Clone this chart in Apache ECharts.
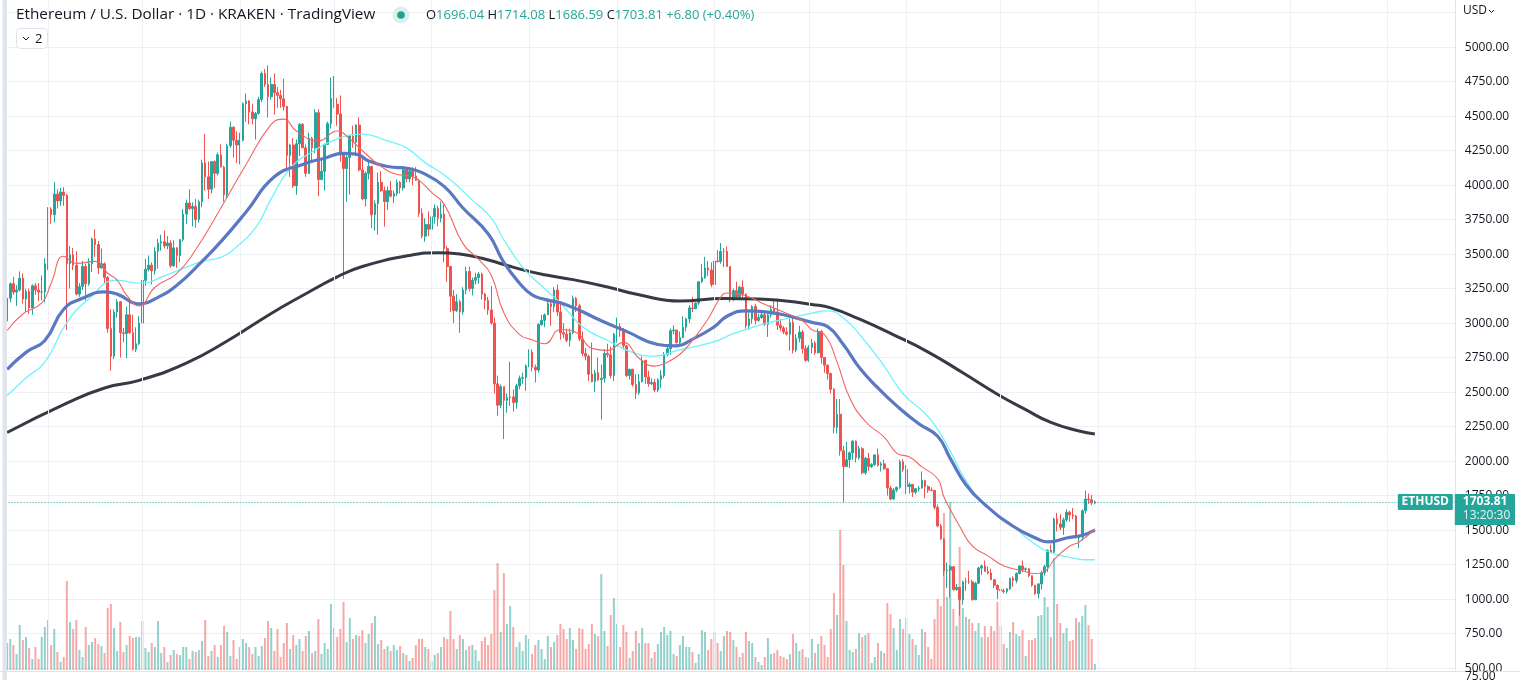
<!DOCTYPE html>
<html><head><meta charset="utf-8">
<script src="https://cdn.jsdelivr.net/npm/echarts/dist/echarts.min.js"></script>
<style>html,body{margin:0;padding:0;background:#fff;}#c{width:1520px;height:680px;}</style>
</head><body><div id="c"></div>
<script>
// ---- data (ETH/USD daily, KRAKEN) ----
const START = '2021-08-19';
const SLOTS = 461; // candles + empty future space
const opens = [
3015,3180,3285,3225,3240,3325,3175,3230,3110,3270,3240,3225,
3225,3430,3825,3785,3935,3885,3950,
3925,3430,3495,3420,3210,3265,3410,3285,3430,3610,3570,3400,
3430,3330,2960,2760,3080,3155,2930,2925,3060,2930,2810,2850,
3000,3310,3390,3420,3380,3520,3580,3590,3560,3580,3415,3545,
3490,3605,3790,3870,3830,3845,3750,3880,4160,4060,3970,4170,
4085,4220,4130,3930,4285,4420,4325,4290,4325,4590,4610,4530,
4480,4520,4620,4810,4730,4640,4730,4670,4650,4625,4570,4215,
4290,3995,4300,4440,4270,4085,4340,4270,4525,4040,4100,4295,
4445,4630,4585,4515,4220,4120,4200,4355,4310,4435,4110,3900,
4085,4135,3785,3865,4020,3960,3880,3960,3920,3940,4020,3980,
4110,4045,4100,4065,4035,3795,3630,3715,3680,3770,3830,3760,
3790,3540,3410,3195,3090,3155,3080,3240,3375,3250,3310,3330,
3355,3210,3165,3095,3000,2560,2405,2540,2440,2460,2465,2425,
2545,2600,2605,2690,2790,2680,2660,2990,3020,3060,3140,3120,
3240,3080,2930,2920,2875,2930,3180,3125,2885,2780,2760,2630,
2575,2640,2590,2600,2780,2770,2620,2920,2975,2945,2835,2620,
2665,2555,2495,2575,2730,2610,2560,2570,2515,2590,2620,2775,
2815,2945,2950,2860,2895,2970,3030,3110,3105,3145,3300,3330,
3400,3385,3280,3450,3445,3520,3520,3410,3170,3235,3190,3260,
3210,2980,3030,3120,3020,3040,3060,2990,3060,3100,3080,2985,
2965,2935,2920,3005,2805,2890,2935,2815,2730,2825,2855,2785,
2940,2750,2695,2635,2520,2245,2340,2075,1960,2010,2060,2145,
2025,2090,1915,2020,1960,1975,2045,1970,1980,1945,1805,1725,
1790,1810,1995,1940,1815,1830,1775,1800,1805,1860,1815,1790,
1788,1665,1530,1435,1205,1210,1235,1070,1085,995,1125,1127,
1125,995,1115,1225,1240,1200,1190,1140,1100,1070,1060,1055,
1075,1150,1135,1185,1240,1215,1220,1170,1100,1040,1110,1190,
1235,1355,1340,1580,1545,1520,1575,1630,1610,1602,1445,1450,
1640,1725,1720,1696.04];
const closes = [
3180,3285,3225,3240,3325,3175,3230,3110,3270,3240,3225,3225,
3430,3825,3785,3935,3885,3950,3925,
3430,3495,3420,3210,3265,3410,3285,3430,3610,3570,3400,3430,
3330,2960,2760,3080,3155,2930,2925,3060,2930,2810,2850,3000,
3310,3390,3420,3380,3520,3580,3590,3560,3580,3415,3545,3490,
3605,3790,3870,3830,3845,3750,3880,4160,4060,3970,4170,4085,
4220,4130,3930,4285,4420,4325,4290,4325,4590,4610,4530,4480,
4520,4620,4810,4730,4640,4730,4670,4650,4625,4570,4215,4290,
3995,4300,4440,4270,4085,4340,4270,4525,4040,4100,4295,4445,
4630,4585,4515,4220,4120,4200,4355,4310,4435,4110,3900,4085,
4135,3785,3865,4020,3960,3880,3960,3920,3940,4020,3980,4110,
4045,4100,4065,4035,3795,3630,3715,3680,3770,3830,3760,3790,
3540,3410,3195,3090,3155,3080,3240,3375,3250,3310,3330,3355,
3210,3165,3095,3000,2560,2405,2540,2440,2460,2465,2425,2545,
2600,2605,2690,2790,2680,2660,2990,3020,3060,3140,3120,3240,
3080,2930,2920,2875,2930,3180,3125,2885,2780,2760,2630,2575,
2640,2590,2600,2780,2770,2620,2920,2975,2945,2835,2620,2665,
2555,2495,2575,2730,2610,2560,2570,2515,2590,2620,2775,2815,
2945,2950,2860,2895,2970,3030,3110,3105,3145,3300,3330,3400,
3385,3280,3450,3445,3520,3520,3410,3170,3235,3190,3260,3210,
2980,3030,3120,3020,3040,3060,2990,3060,3100,3080,2985,2965,
2935,2920,3005,2805,2890,2935,2815,2730,2825,2855,2785,2940,
2750,2695,2635,2520,2245,2340,2075,1960,2010,2060,2145,2025,
2090,1915,2020,1960,1975,2045,1970,1980,1945,1805,1725,1790,
1810,1995,1940,1815,1830,1775,1800,1805,1860,1815,1790,1788,
1665,1530,1435,1205,1210,1235,1070,1085,995,1125,1127,1125,
995,1115,1225,1240,1200,1190,1140,1100,1070,1060,1055,1075,
1150,1135,1185,1240,1215,1220,1170,1100,1040,1110,1190,1235,
1355,1340,1580,1545,1520,1575,1630,1610,1602,1445,1450,1640,
1725,1720,1697.01,1703.81];
const highs = [
3185,3295,3335,3275,3375,3360,3250,3250,3280,3290,3290,3345,
3470,3840,3840,4020,3970,3980,3985,
3935,3560,3545,3520,3290,3450,3430,3470,3620,3680,3595,3540,
3440,3340,3100,3100,3175,3160,2965,3120,3160,3060,2970,3050,
3360,3465,3490,3440,3550,3610,3640,3670,3630,3600,3600,3550,
3610,3825,3895,3970,3875,3900,3895,4185,4370,4170,4175,4180,
4235,4295,4140,4300,4460,4425,4390,4380,4600,4665,4615,4590,
4530,4640,4825,4840,4868,4780,4810,4710,4690,4770,4575,4300,
4340,4330,4450,4450,4295,4380,4350,4550,4550,4180,4300,4460,
4780,4790,4630,4650,4240,4230,4360,4430,4440,4490,4220,4100,
4180,4140,3890,4090,4100,3990,3990,4030,3960,4040,4030,4140,
4130,4130,4130,4130,4045,3830,3760,3810,3775,3860,3850,3880,
3860,3560,3415,3240,3210,3170,3260,3410,3410,3330,3365,3370,
3365,3220,3190,3270,3040,2620,2555,2540,2490,2720,2520,2560,
2620,2640,2700,2810,2810,2700,3000,3060,3070,3180,3170,3260,
3280,3150,3000,2960,2960,3200,3190,3140,2940,2820,2770,2860,
2660,2750,2700,2810,2850,2830,2930,3040,3000,2965,2840,2670,
2670,2630,2630,2760,2730,2655,2600,2595,2600,2660,2790,2840,
2960,2985,2950,2940,3050,3040,3130,3190,3150,3300,3430,3480,
3450,3440,3470,3530,3580,3545,3555,3410,3250,3300,3270,3310,
3215,3080,3130,3140,3070,3080,3080,3070,3130,3180,3180,3030,
2980,2970,3030,3040,2920,2980,2950,2840,2840,2885,2870,2960,
2950,2755,2700,2640,2530,2450,2450,2110,2140,2070,2150,2150,
2110,2100,2030,2060,1985,2050,2090,1995,2010,1950,1820,1805,
1815,2010,2015,1970,1845,1835,1805,1820,1925,1865,1825,1810,
1790,1685,1545,1440,1265,1245,1240,1110,1090,1135,1155,1205,
1140,1125,1235,1250,1280,1235,1220,1145,1105,1110,1075,1080,
1155,1165,1195,1245,1280,1230,1225,1170,1105,1115,1205,1250,
1360,1395,1590,1625,1615,1590,1650,1640,1660,1610,1460,1650,
1785,1765,1755,1714.08];
const lows = [
2970,3150,3205,3125,3230,3140,3080,3065,3060,3205,3160,3165,
3150,3385,3720,3730,3830,3850,3850,
2950,3250,3385,3200,3190,3240,3165,3270,3370,3480,3355,3395,
3290,2930,2655,2740,3040,2750,2860,2745,2920,2800,2790,2840,
2970,3270,3375,3280,3350,3395,3525,3540,3535,3400,3410,3400,
3440,3590,3720,3820,3700,3690,3730,3840,3960,3900,3940,3980,
4070,4130,3880,3900,4270,4200,4160,4150,4315,4460,4440,4440,
4330,4510,4600,4710,4490,4620,4510,4560,4560,4540,4100,4060,
3980,3930,4210,4270,4060,4080,4180,4230,3920,4040,3960,4290,
4410,4560,4430,4170,3320,3880,3930,4270,4210,4100,3890,3845,
4040,3690,3670,3640,3950,3700,3820,3910,3870,3920,3940,3960,
4020,4020,4000,4030,3770,3615,3590,3630,3680,3720,3700,3730,
3440,3300,3080,3000,3080,2930,3060,3210,3230,3200,3280,3285,
3170,3100,3060,2990,2490,2330,2385,2160,2350,2400,2360,2380,
2520,2560,2510,2680,2650,2570,2640,2980,2970,3060,2980,3080,
3050,2880,2890,2860,2830,2920,3080,2870,2760,2730,2580,2570,
2500,2580,2300,2570,2750,2600,2580,2860,2900,2810,2610,2590,
2540,2450,2480,2570,2560,2540,2550,2500,2500,2530,2600,2760,
2770,2920,2850,2830,2890,2940,3000,3080,3100,3130,3290,3320,
3340,3260,3215,3440,3430,3405,3410,3150,3160,3180,3180,3190,
2960,2950,2995,2990,3010,3030,2980,2900,3040,3070,2950,2940,
2920,2910,2800,2780,2790,2860,2780,2720,2720,2780,2770,2780,
2705,2640,2590,2490,2200,2200,2040,1700,1960,1950,2010,1990,
2010,1905,1900,1930,1950,1965,1960,1925,1935,1750,1715,1720,
1775,1800,1920,1760,1765,1740,1760,1780,1800,1730,1770,1780,
1650,1520,1430,1170,1080,1010,1060,1060,880,960,1060,1110,
990,1000,1110,1175,1200,1180,1140,1080,1000,1035,1040,1040,
1065,1090,1115,1180,1195,1200,1160,1090,1030,1005,1070,1170,
1195,1335,1330,1490,1500,1465,1560,1560,1580,1440,1370,1425,
1620,1690,1680,1686.59];
// volume, thousand ETH
const volumes = [
27,31,25,16,45,30,33,22,11,23,11,33,43,50,25,41,18,8,13,89,48,41,50,20,13,43,25,28,32,26,24,17,62,66,42,19,48,18,25,34,32,33,33,
49,22,18,27,23,49,17,23,8,15,20,16,15,23,23,11,19,18,20,29,50,14,19,25,13,25,44,38,14,30,11,23,31,27,23,16,23,14,24,32,49,42,19,41,
13,27,47,21,35,25,31,19,34,39,17,19,51,16,27,21,66,42,33,41,68,28,52,31,35,34,40,27,36,47,54,26,30,21,24,19,25,20,24,17,15,9,12,
25,31,31,23,21,9,15,17,23,33,31,59,31,21,35,31,20,24,25,20,9,29,33,25,36,80,107,38,97,46,64,43,23,28,19,35,31,16,25,30,21,11,
34,23,28,35,46,41,31,42,30,21,42,41,21,26,46,36,34,96,39,24,55,72,46,23,45,38,12,19,39,27,42,27,27,12,18,26,38,43,35,39,16,14,25,
34,23,23,18,7,16,40,38,20,31,38,27,19,34,39,38,30,23,13,17,38,29,27,13,8,5,13,32,16,17,20,14,13,11,16,36,27,19,
21,13,12,31,17,26,34,25,13,41,77,55,140,105,49,20,18,21,37,33,35,37,7,13,27,19,17,67,56,42,20,51,41,52,36,31,25,15,41,38,23,11,51,71,64,
157,73,168,61,44,123,62,53,51,47,39,47,33,44,33,44,39,68,44,26,22,38,48,36,34,40,14,30,30,32,54,55,73,63,33,112,66,47,37,42,29,30,52,48,54,65,45,31,6];
// moving averages: [day index from START, price]
const ma200 = [[0,2207],[19,2420],[31,2530],[42,2585],[57,2710],[70,2870],[84,3070],[94,3200],[105,3335],[113,3410],[128,3490],[137,3510],[144,3500],[151,3470],[158,3425],[165,3380],[171,3350],[180,3315],[191,3262],[201,3205],[214,3160],[228,3178],[239,3175],[247,3162],[256,3135],[262,3110],[271,3030],[282,2915],[293,2790],[304,2640],[315,2485],[324,2373],[332,2280],[341,2218],[346,2196]];
const maBlue = [[0,2665],[6,2788],[12,2874],[18,3100],[24,3180],[31,3226],[35,3210],[42,3140],[47,3175],[54,3275],[62,3447],[68,3590],[76,3805],[85,4060],[94,4150],[101,4195],[107,4230],[111,4225],[115,4175],[121,4135],[128,4118],[132,4090],[139,3991],[145,3834],[153,3647],[158,3440],[163,3289],[167,3205],[171,3172],[178,3132],[189,3017],[197,2940],[207,2845],[212,2835],[219,2895],[225,2974],[229,3050],[235,3089],[242,3080],[248,3055],[256,3005],[261,2974],[266,2845],[271,2680],[277,2530],[283,2400],[290,2270],[296,2180],[300,2020],[305,1829],[311,1686],[320,1528],[328,1434],[331,1414],[337,1443],[342,1463],[346,1500]];
const maCyan = [[0,2473],[6,2602],[12,2717],[19,3003],[26,3175],[35,3312],[42,3289],[51,3352],[62,3447],[68,3476],[72,3533],[79,3690],[84,3900],[90,4120],[97,4240],[105,4335],[113,4369],[121,4320],[127,4270],[133,4163],[140,4057],[148,3891],[154,3762],[158,3604],[164,3404],[170,3270],[176,3146],[183,2974],[191,2874],[199,2788],[206,2760],[213,2800],[225,2866],[231,2923],[240,2989],[248,3032],[256,3072],[261,3089],[266,3037],[272,2894],[279,2688],[285,2488],[292,2345],[296,2230],[300,2072],[305,1858],[311,1686],[320,1528],[326,1414],[332,1336],[339,1299],[343,1285],[346,1285]];
const maRed = [[0,2946],[5,3066],[11,3146],[14,3289],[18,3484],[22,3433],[28,3447],[32,3361],[35,3312],[38,3203],[42,3125],[47,3260],[54,3361],[60,3533],[68,3834],[76,4149],[84,4440],[88,4478],[92,4392],[99,4320],[105,4392],[109,4335],[113,4249],[119,4134],[124,4077],[128,4068],[131,4034],[135,3948],[139,3862],[145,3576],[150,3461],[154,3347],[158,3075],[163,2917],[167,2880],[171,2850],[176,2952],[181,2932],[186,2817],[191,2802],[196,2860],[201,2745],[206,2688],[210,2717],[214,2774],[218,2874],[223,3032],[227,3189],[229,3218],[235,3198],[240,3146],[246,3089],[253,3017],[256,2952],[260,2917],[264,2717],[268,2459],[273,2287],[279,2173],[283,2058],[287,2029],[291,1958],[296,1872],[298,1740],[300,1650],[303,1528],[307,1385],[312,1313],[317,1242],[323,1205],[327,1185],[330,1199],[333,1285],[338,1385],[341,1414],[346,1508]];
const monthStarts = ['2021-09-01','2021-10-01','2021-11-01','2021-12-01','2022-01-01','2022-02-01','2022-03-01','2022-04-01','2022-05-01','2022-06-01','2022-07-01','2022-08-01','2022-09-01','2022-10-01','2022-11-01'];
const priceMin = 500, priceMax = 5250, priceStep = 250;
const title = 'Ethereum / U.S. Dollar · 1D · KRAKEN · TradingView';
const countdown = '13:20:30';
const symbol = 'ETHUSD';

// ---- build ----
const dates = [];
const t0 = Date.parse(START + 'T00:00:00Z');
for (let i = 0; i < SLOTS; i++) dates.push(new Date(t0 + i * 86400000).toISOString().slice(0, 10));
const UP = '#26a69a', DOWN = '#ef5350';
const candles = opens.map((o, i) => [o, closes[i], lows[i], highs[i]]);
const volData = volumes.map((v, i) => ({value: v, itemStyle: {color: closes[i] >= opens[i] ? 'rgba(38,166,154,0.5)' : 'rgba(239,83,80,0.5)'}}));
const n = closes.length;
const lastO = opens[n-1], lastH = highs[n-1], lastL = lows[n-1], lastC = closes[n-1];
const prevC = closes[n-2];
const chg = lastC - prevC;
const FONT = 'Open Sans';
const GL = 5.56, GR = 65.2;

const chart = echarts.init(document.getElementById('c'), null, {renderer: 'canvas'});
const lineSeries = (data, color, width, z) => ({
  type: 'line', xAxisIndex: 2, yAxisIndex: 0, data: data, showSymbol: false, symbol: 'none',
  smooth: 0.5, silent: true, z: z,
  lineStyle: {color: color, width: width}
});
chart.setOption({
  animation: false,
  textStyle: {fontFamily: FONT},
  grid: [
    {left: GL, right: GR, top: 12.6, bottom: 11.9, containLabel: false, outerBoundsMode: 'none'},
    {left: GL, right: GR, top: 0, bottom: 10, containLabel: false, outerBoundsMode: 'none'}
  ],
  xAxis: [
    {type: 'category', gridIndex: 0, data: dates, boundaryGap: true, show: false},
    {type: 'category', gridIndex: 1, data: dates, boundaryGap: true, show: false},
    {type: 'value', gridIndex: 0, min: -0.5, max: SLOTS - 0.5, show: false}
  ],
  yAxis: [
    {type: 'value', gridIndex: 0, position: 'right', min: priceMin, max: priceMax, interval: priceStep,
     axisLine: {show: false}, axisTick: {show: false},
     axisLabel: {show: true, color: '#131722', fontSize: 12, fontFamily: FONT, margin: 10, showMaxLabel: false,
       formatter: v => v.toFixed(2)},
     splitLine: {show: true, lineStyle: {color: '#eef0f3', width: 1}}},
    {type: 'value', gridIndex: 1, position: 'right', min: 0, max: 670,
     axisLine: {show: true, lineStyle: {color: '#e0e3eb', width: 1}}, axisTick: {show: false},
     axisLabel: {show: false}, splitLine: {show: false}}
  ],
  series: [
    {type: 'line', xAxisIndex: 1, yAxisIndex: 1, data: [], z: 0, silent: true,
     markLine: {silent: true, symbol: ['none', 'none'], label: {show: false}, animation: false,
       lineStyle: {color: '#eef0f3', width: 1, type: 'solid'},
       data: monthStarts.map(d => ({xAxis: d}))}},
    {type: 'bar', xAxisIndex: 1, yAxisIndex: 1, data: volData, barWidth: 2, z: 1, silent: true},
    {type: 'candlestick', xAxisIndex: 0, yAxisIndex: 0, data: candles, barWidth: 2.1, z: 3, silent: true,
     itemStyle: {color: UP, color0: DOWN, borderColor: UP, borderColor0: DOWN, borderColorDoji: UP, borderWidth: 1},
     markLine: {silent: true, symbol: ['none', 'none'], label: {show: false}, animation: false,
       lineStyle: {color: UP, width: 1, type: [1, 2]},
       data: [{yAxis: lastC}]}},
    lineSeries(ma200, '#363a45', 3, 4),
    lineSeries(maCyan, '#6ff3fb', 1.3, 5),
    lineSeries(maBlue, '#5b78c2', 3.2, 6),
    lineSeries(maRed, '#f26563', 1.1, 7)
  ]
});

const py = chart.convertToPixel({yAxisIndex: 0}, lastC);
const axisX = 1520 - GR;
const fmt = v => v.toFixed(2);
chart.setOption({
  graphic: [
    {type: 'rect', left: 2.5, top: 0, shape: {width: 4.5, height: 680}, style: {fill: '#e0e4ed'}, z: 100},
    {type: 'line', shape: {x1: 0, y1: 671.5, x2: 1520, y2: 671.5}, style: {stroke: '#e0e3eb', lineWidth: 1}, z: 100},
    {type: 'text', x: 1465, y: 677, style: {text: '75.00', fill: '#131722', font: '12px "Open Sans"', verticalAlign: 'middle'}, z: 100},
    {type: 'text', x: 16, y: 15, style: {text: title, fill: '#131722', font: '15.3px "Open Sans"', verticalAlign: 'middle'}, z: 100},
    {type: 'circle', shape: {cx: 401, cy: 15, r: 8.5}, style: {fill: '#d9f1ec'}, z: 100},
    {type: 'circle', shape: {cx: 401, cy: 15, r: 3.8}, style: {fill: '#22a18d'}, z: 101},
    {type: 'text', x: 426, y: 15, z: 100, style: {
      text: '{l|O}{v|' + fmt(lastO) + '} {l|H}{v|' + fmt(lastH) + '} {l|L}{v|' + fmt(lastL) + '} {l|C}{v|' + fmt(lastC) + '} {v|' + (chg >= 0 ? '+' : '') + fmt(chg) + ' (' + (chg >= 0 ? '+' : '') + (chg / prevC * 100).toFixed(2) + '%)}',
      verticalAlign: 'middle', font: '13px "Open Sans"',
      rich: {l: {fill: '#131722', font: '13px "Open Sans"'}, v: {fill: UP, font: '13px "Open Sans"'}}}},
    {type: 'rect', shape: {x: 16.5, y: 28.5, width: 31, height: 20, r: 4}, style: {fill: '#fff', stroke: '#e0e3eb', lineWidth: 1}, z: 100},
    {type: 'polyline', shape: {points: [[23, 37], [26, 40], [29, 37]]}, style: {stroke: '#131722', lineWidth: 1, fill: null}, z: 101},
    {type: 'text', x: 35, y: 39, style: {text: '2', fill: '#131722', font: '13px "Open Sans"', verticalAlign: 'middle'}, z: 101},
    {type: 'text', x: 1463, y: 11, style: {text: 'USD', fill: '#131722', font: '12px "Open Sans"', verticalAlign: 'middle'}, z: 100},
    {type: 'polyline', shape: {points: [[1489, 10], [1491.5, 12.5], [1494, 10]]}, style: {stroke: '#131722', lineWidth: 1, fill: null}, z: 100},
    {type: 'rect', shape: {x: axisX - 57, y: py - 8, width: 55, height: 16, r: 1}, style: {fill: UP}, z: 110},
    {type: 'text', x: axisX - 29.5, y: py, style: {text: symbol, fill: '#fff', font: 'bold 12px "Open Sans"', align: 'center', verticalAlign: 'middle'}, z: 111},
    {type: 'rect', shape: {x: axisX, y: py - 8, width: 1520 - axisX - 5, height: 31}, style: {fill: UP}, z: 110},
    {type: 'text', x: axisX + 8, y: py, style: {text: fmt(lastC), fill: '#fff', font: 'bold 12px "Open Sans"', verticalAlign: 'middle'}, z: 111},
    {type: 'text', x: axisX + 8, y: py + 14, style: {text: countdown, fill: '#e6f6f4', font: '12px "Open Sans"', verticalAlign: 'middle'}, z: 111}
  ]
});
</script>
</body></html>
